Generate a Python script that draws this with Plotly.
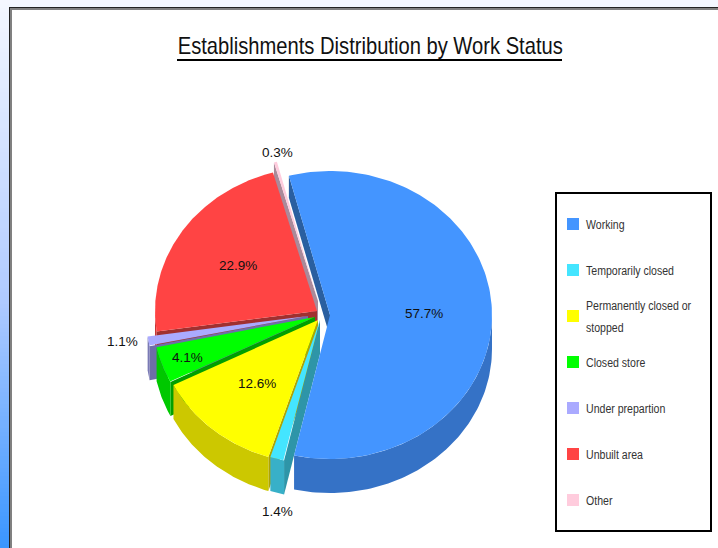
import numpy as np
import plotly.graph_objects as go

# ---- data ----
TITLE = "Establishments Distribution by Work Status"
categories = ["Working", "Temporarily closed", "Permanently closed or stopped",
              "Closed store", "Under prepartion", "Unbuilt area", "Other"]
values = [57.7, 1.4, 12.6, 4.1, 1.1, 22.9, 0.3]

# ---- style ----
top_colors = ["#4495FF", "#44E5FF", "#FFFF00", "#00FF00", "#AAAAFF", "#FF4444", "#FFCCDD"]
side_colors = ["#3572C6", "#38B0C8", "#CCC800", "#00C800", "#7A7AB5", "#C83636", "#C8A0AE"]
cut_colors = ["#2A5FA0", "#2E95A8", "#B0A400", "#00A000", "#6E6EA8", "#A03030", "#AA8A9A"]
centers = [(330, 315), (320, 320), (318, 320), (315, 317), (308, 316), (317, 311), (318, 301)]
cut_depth = [22, 34, 34, 34, 34, 34, 34]
RX, RY, DEPTH = 162, 144, 34
START = 345.3
paint_order = [6, 5, 4, 3, 2, 1, 0]
label_xy = {0: None, 1: (277, 511), 2: None, 3: (187, 357), 4: (122, 341), 5: None, 6: (277, 152)}
TXT = "#111111"
FONT = "Liberation Sans"

fracs = np.array(values) / sum(values)
ends = START + np.cumsum(fracs) * 360
starts = ends - fracs * 360


def ell(c, ang):
    a = np.radians(ang)
    return c[0] + RX * np.sin(a), c[1] - RY * np.cos(a)


fig = go.Figure()


def poly(xs, ys, color, name):
    fig.add_trace(go.Scatter(x=list(xs), y=list(ys), mode="lines", fill="toself",
                             fillcolor=color, line=dict(width=0, color=color),
                             hoverinfo="skip", name=name))


for i in paint_order:
    c, a0, a1 = centers[i], starts[i], ends[i]
    name = categories[i]
    # cut face along the start edge
    ex, ey = ell(c, a0)
    d = cut_depth[i]
    poly([c[0], ex, ex, c[0]], [c[1], ey, ey + d, c[1] + d], cut_colors[i], name)
    # outer rim, front half only
    for k in (0, 360):
        lo, hi = max(a0, 90 + k), min(a1, 270 + k)
        if hi > lo:
            t = np.linspace(lo, hi, 80)
            x, y = ell(c, t)
            poly(np.r_[x, x[::-1]], np.r_[y, y[::-1] + DEPTH], side_colors[i], name)
    # top face
    t = np.linspace(a0, a1, 160)
    x, y = ell(c, t)
    poly(np.r_[c[0], x], np.r_[c[1], y], top_colors[i], name)

annotations = []


def txt(x, y, s, size, anchor="center", color=TXT):
    annotations.append(dict(x=x, y=y, text=s, xref="x", yref="y", showarrow=False,
                            xanchor=anchor, yanchor="middle",
                            font=dict(family=FONT, size=size, color=color)))


for i, v in enumerate(values):
    pos = label_xy[i]
    if pos is None:
        mid = (starts[i] + ends[i]) / 2
        a = np.radians(mid)
        pos = (centers[i][0] + 0.58 * RX * np.sin(a), centers[i][1] - 0.58 * RY * np.cos(a))
    txt(pos[0], pos[1], f"{v:.1f}%", 13.5)

txt(369.5, 45, TITLE, 24, color="#111111")

# legend
leg_y = [224 + 46.0 * i for i in range(len(categories))]
fig.add_trace(go.Scatter(x=[573] * len(categories), y=leg_y, mode="markers", hoverinfo="skip",
                         marker=dict(symbol="square", size=12, color=top_colors, line=dict(width=0))))
for i, name in enumerate(categories):
    if name.startswith("Permanently"):
        txt(584, leg_y[i] - 10.5, "Permanently closed or", 12, "left", "#333333")
        txt(584, leg_y[i] + 11.5, "stopped", 12, "left", "#333333")
    else:
        txt(584, leg_y[i] + 0.5, name, 12, "left", "#333333")

# backdrop
stops_y = [0, 300, 548]
stops_c = np.array([[245, 248, 255], [176, 203, 255], [58, 150, 255]])
shapes = []
for y in range(0, 548, 4):
    col = [int(np.interp(y + 2, stops_y, stops_c[:, k])) for k in range(3)]
    shapes.append(dict(type="rect", x0=0, x1=718, y0=y, y1=y + 4, xref="x", yref="y", layer="below",
                       fillcolor=f"rgb({col[0]},{col[1]},{col[2]})", line=dict(width=0)))
shapes += [
    dict(type="rect", x0=9, x1=730, y0=7, y1=560, xref="x", yref="y", layer="below",
         fillcolor="#222222", line=dict(width=0)),
    dict(type="rect", x0=10, x1=730, y0=8, y1=560, xref="x", yref="y", layer="below",
         fillcolor="#808080", line=dict(width=0)),
    dict(type="rect", x0=12, x1=730, y0=10, y1=560, xref="x", yref="y", layer="below",
         fillcolor="#FFFFFF", line=dict(width=0)),
    dict(type="rect", x0=556, x1=711, y0=193, y1=531, xref="x", yref="y", layer="below",
         fillcolor="#FFFFFF", line=dict(width=2, color="#000000")),
    dict(type="line", x0=177, x1=562, y0=60, y1=60, xref="x", yref="y",
         line=dict(width=2, color="#000000")),
]

fig.update_layout(
    width=718, height=548, margin=dict(l=0, r=0, t=0, b=0), showlegend=False,
    paper_bgcolor="#FFFFFF", plot_bgcolor="rgba(0,0,0,0)",
    xaxis=dict(range=[0, 718], visible=False, fixedrange=True),
    yaxis=dict(range=[548, 0], visible=False, fixedrange=True),
    shapes=shapes, annotations=annotations,
)
# The reference uses a condensed face that is not installed: squeeze title and legend text,
# keeping each string's left edge where it was laid out.
SQUEEZE_JS = """
document.body.style.margin='0';
document.documentElement.style.overflow='hidden';
document.querySelectorAll('.annotation-text').forEach(function(t){
  var fs=parseFloat(t.style.fontSize);
  var k = fs===24 ? 0.84 : (fs===12 ? 0.88 : 0);
  if(k){
    var w=t.getComputedTextLength();
    var left=t.getBBox().x;
    if(fs===24){ left += w*(1-k)/2; }
    t.setAttribute('text-anchor','start');
    t.style.textAnchor='start';
    t.setAttribute('x', left.toFixed(1));
    t.setAttribute('textLength', (w*k).toFixed(1));
    t.setAttribute('lengthAdjust','spacingAndGlyphs');
  }
});
"""
fig.write_html("out.html", config=dict(displayModeBar=False), post_script=SQUEEZE_JS)
